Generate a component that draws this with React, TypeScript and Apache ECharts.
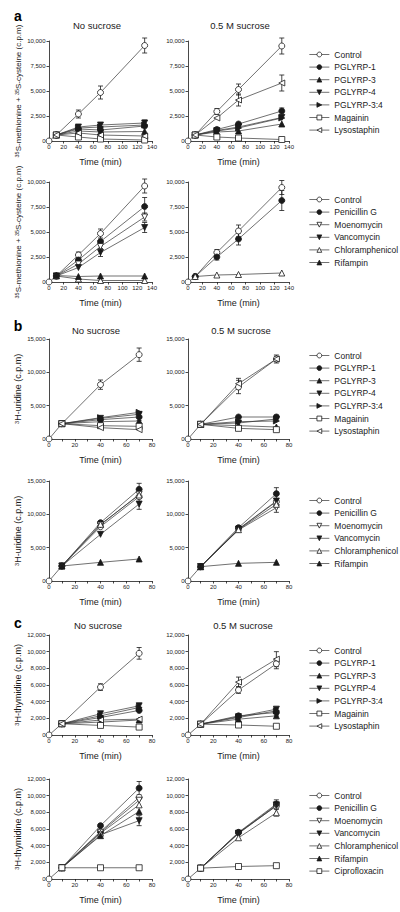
import React, { useEffect, useRef } from 'react';
import * as echarts from 'echarts';

const FONT = '"Liberation Sans", Arial, Helvetica, sans-serif';
const INK = '#1a1a1a';

// ---------- time points (min) ----------
const TIME_A = [0, 10, 40, 70, 130];
const TIME_BC = [0, 10, 40, 70];

// ---------- legend lists ----------
const LEGEND_PGLYRP = ['Control', 'PGLYRP-1', 'PGLYRP-3', 'PGLYRP-4', 'PGLYRP-3:4', 'Magainin', 'Lysostaphin'];
const LEGEND_ANTIBIOTIC = ['Control', 'Penicillin G', 'Moenomycin', 'Vancomycin', 'Chloramphenicol', 'Rifampin'];
const LEGEND_ANTIBIOTIC_C = ['Control', 'Penicillin G', 'Moenomycin', 'Vancomycin', 'Chloramphenicol', 'Rifampin', 'Ciprofloxacin'];

// ---------- panel titles ----------
const COLUMN_TITLES = ['No sucrose', '0.5 M sucrose'];
const PANEL_LETTERS = ['a', 'b', 'c'];
const X_NAME = 'Time (min)';
const Y_NAME_A = '{sup|35}S-methionine + {sup|35}S-cysteine (c.p.m)';
const Y_NAME_B = '{sup|3}H-uridine (c.p.m)';
const Y_NAME_C = '{sup|3}H-thymidine (c.p.m)';

// ---------- a, top, no sucrose ----------
const aTopNo_Control = [0, 600, 2700, 4850, 9550];
const aTopNo_ControlErr = [0, 0, 400, 650, 750];
const aTopNo_P1 = [null, 600, 1200, 1100, 1500];
const aTopNo_P3 = [null, 600, 1000, 900, 950];
const aTopNo_P4 = [null, 600, 1400, 1600, 1800];
const aTopNo_P4Err = [0, 0, 0, 200, 300];
const aTopNo_P34 = [null, 600, 1300, 1400, 1600];
const aTopNo_Magainin = [null, 600, 400, 200, 100];
const aTopNo_Lyso = [null, 600, 800, 600, 500];

// ---------- a, top, 0.5 M sucrose ----------
const aTopSuc_Control = [0, 600, 2950, 5150, 9500];
const aTopSuc_ControlErr = [0, 0, 300, 550, 800];
const aTopSuc_P1 = [null, 600, 1150, 1700, 3000];
const aTopSuc_P1Err = [0, 0, 0, 0, 300];
const aTopSuc_P3 = [null, 600, 900, 1000, 1700];
const aTopSuc_P4 = [null, 600, 1050, 1400, 2350];
const aTopSuc_P34 = [null, 600, 1000, 1300, 2300];
const aTopSuc_Magainin = [null, 600, 400, 300, 150];
const aTopSuc_Lyso = [null, 600, 2300, 4100, 5800];
const aTopSuc_LysoErr = [0, 0, 0, 600, 800];

// ---------- a, bottom, no sucrose ----------
const aBotNo_Control = [0, 600, 2700, 4850, 9600];
const aBotNo_ControlErr = [0, 0, 300, 450, 700];
const aBotNo_PenG = [null, 600, 2200, 4050, 7550];
const aBotNo_PenGErr = [0, 0, 0, 0, 900];
const aBotNo_Moeno = [null, 600, 1800, 3550, 6500];
const aBotNo_MoenoErr = [0, 0, 0, 0, 400];
const aBotNo_Vanco = [null, 600, 1450, 2950, 5450];
const aBotNo_VancoErr = [0, 0, 0, 400, 500];
const aBotNo_Chloram = [null, 600, 300, 150, 150];
const aBotNo_Rif = [null, 650, 550, 600, 600];

// ---------- a, bottom, 0.5 M sucrose ----------
const aBotSuc_Control = [0, 550, 2950, 5100, 9450];
const aBotSuc_ControlErr = [0, 0, 300, 600, 700];
const aBotSuc_PenG = [null, 550, 2500, 4300, 8150];
const aBotSuc_PenGErr = [0, 0, 300, 600, 1000];
const aBotSuc_Chloram = [null, 550, 700, 750, 900];

// ---------- b, top, no sucrose ----------
const bTopNo_Control = [0, 2300, 8150, 12650];
const bTopNo_ControlErr = [0, 0, 700, 1000];
const bTopNo_P1 = [null, 2300, 2900, 3300];
const bTopNo_P1Err = [0, 0, 0, 500];
const bTopNo_P3 = [null, 2300, 2600, 2700];
const bTopNo_P3Err = [0, 0, 0, 500];
const bTopNo_P4 = [null, 2300, 3100, 3700];
const bTopNo_P34 = [null, 2300, 3200, 4000];
const bTopNo_Magainin = [null, 2300, 2000, 1900];
const bTopNo_MagaininErr = [0, 0, 0, 400];
const bTopNo_Lyso = [null, 2300, 1700, 1400];

// ---------- b, top, 0.5 M sucrose ----------
const bTopSuc_Control = [0, 2200, 7800, 12000];
const bTopSuc_ControlErr = [0, 0, 1000, 600];
const bTopSuc_P1 = [null, 2200, 3300, 3300];
const bTopSuc_P1Err = [0, 0, 0, 300];
const bTopSuc_P3 = [null, 2200, 2000, 1800];
const bTopSuc_P4 = [null, 2200, 2400, 3000];
const bTopSuc_P34 = [null, 2200, 2600, 2700];
const bTopSuc_Magainin = [null, 2200, 1600, 1400];
const bTopSuc_Lyso = [null, 2200, 8300, 12000];
const bTopSuc_LysoErr = [0, 0, 800, 400];

// ---------- b, bottom, no sucrose ----------
const bBotNo_Control = [0, 2250, 8150, 12650];
const bBotNo_PenG = [null, 2250, 8750, 13750];
const bBotNo_PenGErr = [0, 0, 0, 900];
const bBotNo_Moeno = [null, 2250, 8400, 13000];
const bBotNo_Vanco = [null, 2250, 7000, 11550];
const bBotNo_VancoErr = [0, 0, 0, 800];
const bBotNo_Chloram = [null, 2250, 8500, 12900];
const bBotNo_Rif = [null, 2250, 2800, 3300];

// ---------- b, bottom, 0.5 M sucrose ----------
const bBotSuc_Control = [0, 2150, 7750, 11900];
const bBotSuc_PenG = [null, 2150, 8000, 13100];
const bBotSuc_PenGErr = [0, 0, 0, 900];
const bBotSuc_Moeno = [null, 2150, 7650, 11000];
const bBotSuc_MoenoErr = [0, 0, 0, 700];
const bBotSuc_Vanco = [null, 2150, 7800, 12000];
const bBotSuc_Chloram = [null, 2150, 7700, 11500];
const bBotSuc_Rif = [null, 2150, 2650, 2800];

// ---------- c, top, no sucrose ----------
const cTopNo_Control = [0, 1350, 5750, 9800];
const cTopNo_ControlErr = [0, 0, 400, 700];
const cTopNo_P1 = [null, 1350, 2100, 2950];
const cTopNo_P3 = [null, 1350, 1550, 1800];
const cTopNo_P4 = [null, 1350, 2550, 3500];
const cTopNo_P4Err = [0, 0, 0, 300];
const cTopNo_P34 = [null, 1350, 2300, 3300];
const cTopNo_Magainin = [null, 1350, 1150, 950];
const cTopNo_Lyso = [null, 1350, 1800, 1900];

// ---------- c, top, 0.5 M sucrose ----------
const cTopSuc_Control = [0, 1300, 5400, 8550];
const cTopSuc_ControlErr = [0, 0, 400, 600];
const cTopSuc_P1 = [null, 1300, 2300, 2700];
const cTopSuc_P1Err = [0, 0, 0, 400];
const cTopSuc_P3 = [null, 1300, 1900, 2300];
const cTopSuc_P4 = [null, 1300, 2200, 3100];
const cTopSuc_P34 = [null, 1300, 2100, 2900];
const cTopSuc_Magainin = [null, 1300, 1200, 1050];
const cTopSuc_Lyso = [null, 1300, 6350, 9100];
const cTopSuc_LysoErr = [0, 0, 600, 900];

// ---------- c, bottom, no sucrose ----------
const cBotNo_Control = [0, 1350, 5700, 9800];
const cBotNo_PenG = [null, 1350, 6400, 10900];
const cBotNo_PenGErr = [0, 0, 0, 800];
const cBotNo_Moeno = [null, 1350, 5600, 9450];
const cBotNo_Vanco = [null, 1350, 5300, 7000];
const cBotNo_VancoErr = [0, 0, 0, 600];
const cBotNo_Chloram = [null, 1350, 5500, 8900];
const cBotNo_Rif = [null, 1350, 5200, 8100];
const cBotNo_Cipro = [null, 1350, 1350, 1350];

// ---------- c, bottom, 0.5 M sucrose ----------
const cBotSuc_Control = [0, 1300, 5550, 8750];
const cBotSuc_PenG = [null, 1300, 5600, 9000];
const cBotSuc_PenGErr = [0, 0, 0, 500];
const cBotSuc_Moeno = [null, 1300, 5450, 8800];
const cBotSuc_Vanco = [null, 1300, 5500, 8900];
const cBotSuc_Chloram = [null, 1300, 4950, 7950];
const cBotSuc_ChloramErr = [0, 0, 0, 400];
const cBotSuc_Cipro = [null, 1300, 1500, 1600];

// ---------- marker styles ----------
const UP = 'path://M5,0L10,9L0,9Z';
const DOWN = 'path://M0,0L10,0L5,9Z';
const RIGHT = 'path://M0,0L9,5L0,10Z';
const LEFT = 'path://M9,0L0,5L9,10Z';
const MARKERS: Record<string, { symbol: string; open: boolean }> = {
  'Control': { symbol: 'circle', open: true },
  'PGLYRP-1': { symbol: 'circle', open: false },
  'PGLYRP-3': { symbol: UP, open: false },
  'PGLYRP-4': { symbol: DOWN, open: false },
  'PGLYRP-3:4': { symbol: RIGHT, open: false },
  'Magainin': { symbol: 'rect', open: true },
  'Lysostaphin': { symbol: LEFT, open: true },
  'Penicillin G': { symbol: 'circle', open: false },
  'Moenomycin': { symbol: DOWN, open: true },
  'Vancomycin': { symbol: DOWN, open: false },
  'Chloramphenicol': { symbol: UP, open: true },
  'Rifampin': { symbol: UP, open: false },
  'Ciprofloxacin': { symbol: 'rect', open: true },
};

type S = { name: string; values: (number | null)[]; err?: number[] };
type Panel = {
  left: number; top: number; width: number; times: number[];
  xMax: number; xStep: number; yMax: number; yStep: number;
  yName: string; yFont: number; series: S[];
};

const L = { left: 49, width: 103 };
const R = { left: 188, width: 101 };

const PANELS: Panel[] = [
  { ...L, top: 41, times: TIME_A, xMax: 140, xStep: 20, yMax: 10000, yStep: 2500, yName: Y_NAME_A, yFont: 8, series: [
    { name: 'Control', values: aTopNo_Control, err: aTopNo_ControlErr },
    { name: 'PGLYRP-1', values: aTopNo_P1 },
    { name: 'PGLYRP-3', values: aTopNo_P3 },
    { name: 'PGLYRP-4', values: aTopNo_P4, err: aTopNo_P4Err },
    { name: 'PGLYRP-3:4', values: aTopNo_P34 },
    { name: 'Magainin', values: aTopNo_Magainin },
    { name: 'Lysostaphin', values: aTopNo_Lyso },
  ] },
  { ...R, top: 41, times: TIME_A, xMax: 140, xStep: 20, yMax: 10000, yStep: 2500, yName: '', yFont: 8, series: [
    { name: 'Control', values: aTopSuc_Control, err: aTopSuc_ControlErr },
    { name: 'PGLYRP-1', values: aTopSuc_P1, err: aTopSuc_P1Err },
    { name: 'PGLYRP-3', values: aTopSuc_P3 },
    { name: 'PGLYRP-4', values: aTopSuc_P4 },
    { name: 'PGLYRP-3:4', values: aTopSuc_P34 },
    { name: 'Magainin', values: aTopSuc_Magainin },
    { name: 'Lysostaphin', values: aTopSuc_Lyso, err: aTopSuc_LysoErr },
  ] },
  { ...L, top: 182, times: TIME_A, xMax: 140, xStep: 20, yMax: 10000, yStep: 2500, yName: Y_NAME_A, yFont: 8, series: [
    { name: 'Control', values: aBotNo_Control, err: aBotNo_ControlErr },
    { name: 'Penicillin G', values: aBotNo_PenG, err: aBotNo_PenGErr },
    { name: 'Moenomycin', values: aBotNo_Moeno, err: aBotNo_MoenoErr },
    { name: 'Vancomycin', values: aBotNo_Vanco, err: aBotNo_VancoErr },
    { name: 'Chloramphenicol', values: aBotNo_Chloram },
    { name: 'Rifampin', values: aBotNo_Rif },
  ] },
  { ...R, top: 182, times: TIME_A, xMax: 140, xStep: 20, yMax: 10000, yStep: 2500, yName: '', yFont: 8, series: [
    { name: 'Control', values: aBotSuc_Control, err: aBotSuc_ControlErr },
    { name: 'Penicillin G', values: aBotSuc_PenG, err: aBotSuc_PenGErr },
    { name: 'Chloramphenicol', values: aBotSuc_Chloram },
  ] },
  { ...L, top: 339, times: TIME_BC, xMax: 80, xStep: 10, yMax: 15000, yStep: 5000, yName: Y_NAME_B, yFont: 9, series: [
    { name: 'Control', values: bTopNo_Control, err: bTopNo_ControlErr },
    { name: 'PGLYRP-1', values: bTopNo_P1, err: bTopNo_P1Err },
    { name: 'PGLYRP-3', values: bTopNo_P3, err: bTopNo_P3Err },
    { name: 'PGLYRP-4', values: bTopNo_P4 },
    { name: 'PGLYRP-3:4', values: bTopNo_P34 },
    { name: 'Magainin', values: bTopNo_Magainin, err: bTopNo_MagaininErr },
    { name: 'Lysostaphin', values: bTopNo_Lyso },
  ] },
  { ...R, top: 339, times: TIME_BC, xMax: 80, xStep: 10, yMax: 15000, yStep: 5000, yName: '', yFont: 9, series: [
    { name: 'Control', values: bTopSuc_Control, err: bTopSuc_ControlErr },
    { name: 'PGLYRP-1', values: bTopSuc_P1, err: bTopSuc_P1Err },
    { name: 'PGLYRP-3', values: bTopSuc_P3 },
    { name: 'PGLYRP-4', values: bTopSuc_P4 },
    { name: 'PGLYRP-3:4', values: bTopSuc_P34 },
    { name: 'Magainin', values: bTopSuc_Magainin },
    { name: 'Lysostaphin', values: bTopSuc_Lyso, err: bTopSuc_LysoErr },
  ] },
  { ...L, top: 481, times: TIME_BC, xMax: 80, xStep: 10, yMax: 15000, yStep: 5000, yName: Y_NAME_B, yFont: 9, series: [
    { name: 'Control', values: bBotNo_Control },
    { name: 'Penicillin G', values: bBotNo_PenG, err: bBotNo_PenGErr },
    { name: 'Moenomycin', values: bBotNo_Moeno },
    { name: 'Vancomycin', values: bBotNo_Vanco, err: bBotNo_VancoErr },
    { name: 'Chloramphenicol', values: bBotNo_Chloram },
    { name: 'Rifampin', values: bBotNo_Rif },
  ] },
  { ...R, top: 481, times: TIME_BC, xMax: 80, xStep: 10, yMax: 15000, yStep: 5000, yName: '', yFont: 9, series: [
    { name: 'Control', values: bBotSuc_Control },
    { name: 'Penicillin G', values: bBotSuc_PenG, err: bBotSuc_PenGErr },
    { name: 'Moenomycin', values: bBotSuc_Moeno, err: bBotSuc_MoenoErr },
    { name: 'Vancomycin', values: bBotSuc_Vanco },
    { name: 'Chloramphenicol', values: bBotSuc_Chloram },
    { name: 'Rifampin', values: bBotSuc_Rif },
  ] },
  { ...L, top: 635, times: TIME_BC, xMax: 80, xStep: 10, yMax: 12000, yStep: 2000, yName: Y_NAME_C, yFont: 9, series: [
    { name: 'Control', values: cTopNo_Control, err: cTopNo_ControlErr },
    { name: 'PGLYRP-1', values: cTopNo_P1 },
    { name: 'PGLYRP-3', values: cTopNo_P3 },
    { name: 'PGLYRP-4', values: cTopNo_P4, err: cTopNo_P4Err },
    { name: 'PGLYRP-3:4', values: cTopNo_P34 },
    { name: 'Magainin', values: cTopNo_Magainin },
    { name: 'Lysostaphin', values: cTopNo_Lyso },
  ] },
  { ...R, top: 635, times: TIME_BC, xMax: 80, xStep: 10, yMax: 12000, yStep: 2000, yName: '', yFont: 9, series: [
    { name: 'Control', values: cTopSuc_Control, err: cTopSuc_ControlErr },
    { name: 'PGLYRP-1', values: cTopSuc_P1, err: cTopSuc_P1Err },
    { name: 'PGLYRP-3', values: cTopSuc_P3 },
    { name: 'PGLYRP-4', values: cTopSuc_P4 },
    { name: 'PGLYRP-3:4', values: cTopSuc_P34 },
    { name: 'Magainin', values: cTopSuc_Magainin },
    { name: 'Lysostaphin', values: cTopSuc_Lyso, err: cTopSuc_LysoErr },
  ] },
  { ...L, top: 779, times: TIME_BC, xMax: 80, xStep: 10, yMax: 12000, yStep: 2000, yName: Y_NAME_C, yFont: 9, series: [
    { name: 'Control', values: cBotNo_Control },
    { name: 'Penicillin G', values: cBotNo_PenG, err: cBotNo_PenGErr },
    { name: 'Moenomycin', values: cBotNo_Moeno },
    { name: 'Vancomycin', values: cBotNo_Vanco, err: cBotNo_VancoErr },
    { name: 'Chloramphenicol', values: cBotNo_Chloram },
    { name: 'Rifampin', values: cBotNo_Rif },
    { name: 'Ciprofloxacin', values: cBotNo_Cipro },
  ] },
  { ...R, top: 779, times: TIME_BC, xMax: 80, xStep: 10, yMax: 12000, yStep: 2000, yName: '', yFont: 9, series: [
    { name: 'Control', values: cBotSuc_Control },
    { name: 'Penicillin G', values: cBotSuc_PenG, err: cBotSuc_PenGErr },
    { name: 'Moenomycin', values: cBotSuc_Moeno },
    { name: 'Vancomycin', values: cBotSuc_Vanco },
    { name: 'Chloramphenicol', values: cBotSuc_Chloram, err: cBotSuc_ChloramErr },
    { name: 'Ciprofloxacin', values: cBotSuc_Cipro },
  ] },
];

const LEGENDS: { data: string[]; top: number }[] = [
  { data: LEGEND_PGLYRP, top: 45 },
  { data: LEGEND_ANTIBIOTIC, top: 190 },
  { data: LEGEND_PGLYRP, top: 346 },
  { data: LEGEND_ANTIBIOTIC, top: 491 },
  { data: LEGEND_PGLYRP, top: 641 },
  { data: LEGEND_ANTIBIOTIC_C, top: 786 },
];

const TITLE_ROWS = [
  { letterY: 16, titleY: 25, centers: [97, 240] },
  { letterY: 326, titleY: 330, centers: [96, 241] },
  { letterY: 623, titleY: 625, centers: [98, 243] },
];

function buildOption() {
  const grid: any[] = [];
  const xAxis: any[] = [];
  const yAxis: any[] = [];
  const series: any[] = [];
  const axisLine = { show: true, onZero: false, lineStyle: { color: INK, width: 0.8 } };
  const axisTick = { show: true, length: 2.5, lineStyle: { color: INK, width: 0.8 } };

  PANELS.forEach((p, i) => {
    grid.push({ left: p.left, top: p.top, width: p.width, height: 100, outerBoundsMode: 'none', containLabel: false });
    xAxis.push({
      type: 'value', gridIndex: i, min: 0, max: p.xMax, interval: p.xStep,
      axisLine, axisTick, splitLine: { show: false },
      axisLabel: {
        fontSize: 6, color: INK, margin: 3, fontFamily: FONT,
        formatter: (v: number) => (v % 20 === 0 ? String(v) : ''),
      },
      name: X_NAME, nameLocation: 'middle', nameGap: 16,
      nameTextStyle: { fontSize: 9, color: INK, fontFamily: FONT },
    });
    yAxis.push({
      type: 'value', gridIndex: i, min: 0, max: p.yMax, interval: p.yStep,
      axisLine, axisTick, splitLine: { show: false },
      axisLabel: {
        fontSize: 6, color: INK, margin: 3.5, fontFamily: FONT,
        formatter: (v: number) => v.toLocaleString('en-US'),
      },
      name: p.yName, nameLocation: 'middle', nameGap: 27,
      nameTextStyle: {
        fontSize: p.yFont, color: INK, fontFamily: FONT,
        rich: { sup: { fontSize: p.yFont * 0.68, verticalAlign: 'top', color: INK, fontFamily: FONT } },
      },
    });

    const errs: number[][] = [];
    p.series.forEach((s) => {
      const m = MARKERS[s.name];
      series.push({
        type: 'line', name: s.name, xAxisIndex: i, yAxisIndex: i,
        data: p.times.map((t, k) => [t, s.values[k]]),
        symbol: m.symbol, symbolSize: 6, showSymbol: true, connectNulls: false,
        lineStyle: { color: '#333', width: 0.7 },
        itemStyle: m.open
          ? { color: '#fff', borderColor: INK, borderWidth: 0.8 }
          : { color: INK, borderColor: INK, borderWidth: 0.8 },
        emphasis: { disabled: true }, z: 3,
      });
      if (s.err) {
        s.err.forEach((e, k) => {
          const v = s.values[k];
          if (e > 0 && v != null) errs.push([p.times[k], v, e]);
        });
      }
    });
    if (errs.length) {
      series.push({
        type: 'custom', name: 'err' + i, xAxisIndex: i, yAxisIndex: i, z: 2, silent: true,
        encode: { x: 0, y: 1 },
        data: errs,
        renderItem: (_params: any, api: any) => {
          const x = api.value(0), y = api.value(1), e = api.value(2);
          const t = api.coord([x, y + e]);
          const b = api.coord([x, y - e]);
          const hw = 2.5;
          const st = { stroke: INK, lineWidth: 0.8 };
          return {
            type: 'group',
            children: [
              { type: 'line', shape: { x1: t[0], y1: t[1], x2: b[0], y2: b[1] }, style: st },
              { type: 'line', shape: { x1: t[0] - hw, y1: t[1], x2: t[0] + hw, y2: t[1] }, style: st },
              { type: 'line', shape: { x1: b[0] - hw, y1: b[1], x2: b[0] + hw, y2: b[1] }, style: st },
            ],
          };
        },
      });
    }
  });

  const legend = LEGENDS.map((lg) => ({
    orient: 'vertical', left: 304, top: lg.top, data: lg.data,
    itemWidth: 20, itemHeight: 6, itemGap: 3.6, selectedMode: false,
    lineStyle: { width: 0.7 },
    itemStyle: { borderWidth: 0.8 },
    textStyle: { fontSize: 8.5, color: INK, fontFamily: FONT, lineHeight: 8.5 },
  }));

  const graphic: any[] = [];
  TITLE_ROWS.forEach((r, i) => {
    graphic.push({
      type: 'text', x: 18, y: r.letterY,
      style: { text: PANEL_LETTERS[i], fontSize: 14, fontWeight: 'bold', fontFamily: FONT, fill: '#000', align: 'center', verticalAlign: 'middle' },
    });
    r.centers.forEach((cx, j) => {
      graphic.push({
        type: 'text', x: cx, y: r.titleY,
        style: { text: COLUMN_TITLES[j], fontSize: 9.5, fontFamily: FONT, fill: INK, align: 'center', verticalAlign: 'middle' },
      });
    });
  });

  return {
    animation: false,
    backgroundColor: '#fff',
    textStyle: { fontFamily: FONT },
    grid, xAxis, yAxis, series, legend, graphic,
  };
}

export default function App() {
  const ref = useRef<HTMLDivElement>(null);
  useEffect(() => {
    if (!ref.current) return;
    const chart = echarts.init(ref.current, undefined, { renderer: 'svg' });
    chart.setOption(buildOption() as any);
    return () => chart.dispose();
  }, []);
  return <div ref={ref} style={{ position: 'absolute', left: 0, top: 0, width: 400, height: 912 }} />;
}
